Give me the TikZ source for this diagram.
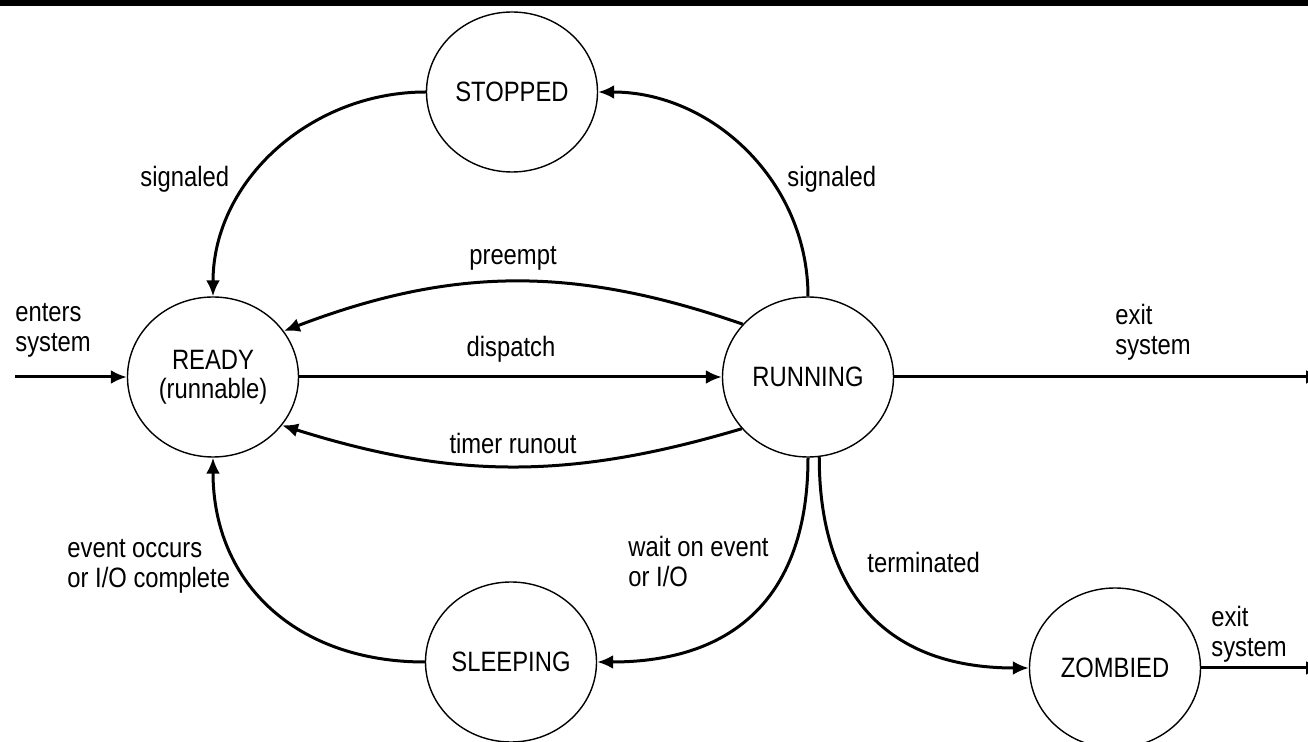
\documentclass[tikz,border=0pt]{standalone}
\usepackage{fontspec}
\setmainfont{Liberation Sans}[FakeStretch=0.85]
\usetikzlibrary{arrows.meta,shapes.geometric}
\tikzstyle{diagram} = [x = 0.5pt, y = -0.5pt]
\tikzstyle{stateStyle} = [draw, ellipse, line width=0.7pt, fill=white, minimum width=85.5pt, minimum height=80pt, inner sep=0pt, align=center, font=\fontsize{14}{14.5}\selectfont]
\tikzstyle{transitionStyle} = [line width=1.5pt, -{Latex[length=8pt,width=7pt]}]
\tikzstyle{labelText} = [font=\fontsize{14}{15}\selectfont, align=left, inner sep=0pt, anchor=base west]
\tikzstyle{centerText} = [labelText, anchor=base]
\newcommand{\stateNode}[4]{\node [stateStyle] (#1) at (#2, #3) {#4};}
\newcommand{\labelNode}[4]{\node [labelText] (#1) at (#2, #3) {#4};}

\begin{document}
\begin{tikzpicture}[diagram]
  \useasboundingbox (0,0) rectangle (1308,742);
  \fill [black] (0,0) rectangle (1308,6);

  % states
  \stateNode{stopped}{512}{92}{STOPPED}
  \stateNode{ready}{213}{377}{READY\\(runnable)}
  \stateNode{running}{808}{377}{RUNNING}
  \stateNode{sleeping}{511}{662}{SLEEPING}
  \stateNode{zombied}{1115}{668}{ZOMBIED}

  \coordinate (enterPoint) at (15,377);
  \coordinate (exitRunning) at (1322,377);
  \coordinate (exitZombied) at (1322,668);

  % transitions
  \draw [transitionStyle] (enterPoint) -- (ready.west);
  \draw [transitionStyle] (ready.east) -- (running.west);
  \draw [transitionStyle] (running.141) to [bend right=20] (ready.33);
  \draw [transitionStyle] (running.218) to [bend left=17] (ready.-35);
  \draw [transitionStyle] (running.east) -- (exitRunning);
  \draw [transitionStyle] (stopped.west) to [out=180, in=90] (ready.north);
  \draw [transitionStyle] (running.north) to [out=90, in=0] (stopped.east);
  \draw [transitionStyle] (sleeping.west) to [out=180, in=-90, looseness=1.1] (ready.south);
  \draw [transitionStyle] (running.south) to [out=-90, in=0, looseness=1.2] (sleeping.east);
  \draw [transitionStyle] (running.-82) to [out=-90, in=180, looseness=1.2] (zombied.west);
  \draw [transitionStyle] (zombied.east) -- (exitZombied);

  % labels (base = last line)
  \labelNode{entersLabel}{15}{352}{enters\\system}
  \node [centerText] (dispatchLabel) at (511,357) {dispatch};
  \node [centerText] (preemptLabel) at (513,265) {preempt};
  \node [centerText] (timerLabel) at (513,454) {timer runout};
  \labelNode{exitLabel}{1115}{355}{exit\\system}
  \labelNode{signaledLeft}{140}{187}{signaled}
  \labelNode{signaledRight}{787}{187}{signaled}
  \labelNode{eventLabel}{67}{588}{event occurs\\or I/O complete}
  \labelNode{waitLabel}{628}{587}{wait on event\\or I/O}
  \labelNode{terminatedLabel}{867}{573}{terminated}
  \labelNode{zombieExitLabel}{1211}{657}{exit\\system}
\end{tikzpicture}
\end{document}
